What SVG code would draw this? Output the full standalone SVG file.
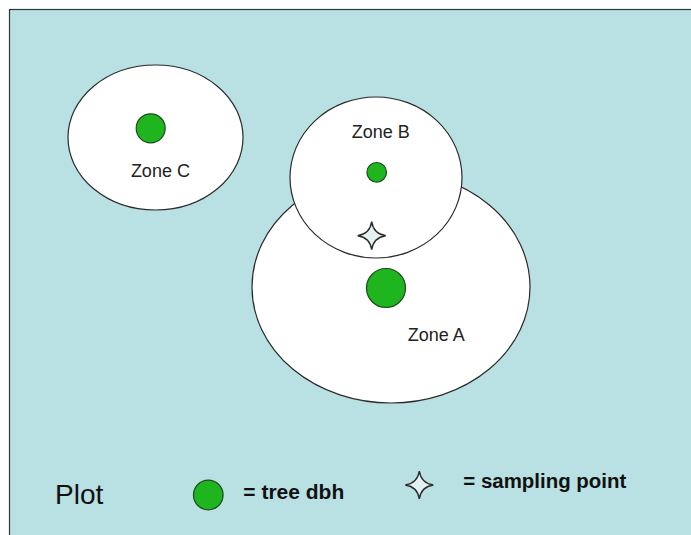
<svg xmlns="http://www.w3.org/2000/svg" width="691" height="535" viewBox="0 0 691 535">
<defs>
<style>
.zone{fill:#ffffff;stroke:#2a2a2a;stroke-width:1.2}
.tree{fill:#1fb51f;stroke:#1d4a1d;stroke-width:1.2}
.star{fill:#e4f2f4;stroke:#2a2a2a;stroke-width:1.4}
.lbl{font-family:"Liberation Sans",Arial,sans-serif;font-size:18px;fill:#222222}
.leg{font-family:"Liberation Sans",Arial,sans-serif;font-weight:bold;fill:#111111}
</style>
<path id="starShape" d="M0,-14 Q1.8,-1.8 14,0 Q1.8,1.8 0,14 Q-1.8,1.8 -14,0 Q-1.8,-1.8 0,-14 Z"/>
</defs>
<rect x="0" y="0" width="691" height="535" fill="#ffffff"/>
<rect id="plot" x="9.5" y="9.5" width="700" height="540" fill="#b9e0e3" stroke="#2a3a3a" stroke-width="1.2"/>
<g id="zoneC">
<ellipse class="zone" cx="155.5" cy="137.5" rx="87.5" ry="72.5"/>
<circle class="tree" cx="150.7" cy="128.3" r="14.5"/>
<text class="lbl" x="160.4" y="177" text-anchor="middle">Zone C</text>
</g>
<g id="zoneA">
<ellipse class="zone" cx="391" cy="287" rx="139" ry="116"/>
<circle class="tree" cx="386" cy="288" r="19.5"/>
<text class="lbl" x="407.7" y="340.7">Zone A</text>
</g>
<g id="zoneB">
<ellipse class="zone" cx="376" cy="177.5" rx="86" ry="80.5"/>
<circle class="tree" cx="376.7" cy="172.3" r="9.8"/>
<text class="lbl" x="380.7" y="138.3" text-anchor="middle">Zone B</text>
</g>
<g id="samplingPoint">
<use href="#starShape" class="star" transform="translate(371.7,235.7)"/>
</g>
<g id="legend">
<text class="leg" x="55" y="504.3" style="font-weight:normal;font-size:28px">Plot</text>
<circle class="tree" cx="208.3" cy="495" r="14.8"/>
<text class="leg" x="243.3" y="499.3" font-size="21">= tree dbh</text>
<use href="#starShape" class="star" transform="translate(419.3,485)"/>
<text class="leg" x="463.3" y="488.3" font-size="20" textLength="163" lengthAdjust="spacingAndGlyphs">= sampling point</text>
</g>
</svg>
